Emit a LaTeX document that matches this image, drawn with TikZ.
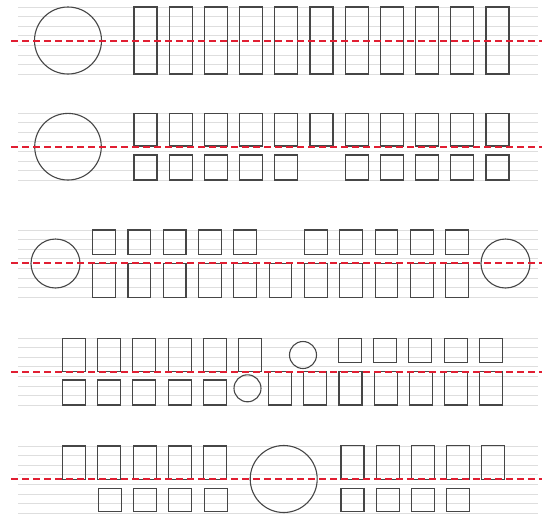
\documentclass[tikz,border=0pt]{standalone}
\definecolor{midred}{RGB}{225,30,50}
\definecolor{inkgray}{RGB}{70,70,70}
\definecolor{ruleg}{RGB}{222,222,222}
\begin{document}
\begin{tikzpicture}[x=1pt,y=-1pt,
  box/.style={draw=inkgray,line width=1.1pt},
  ring/.style={draw=inkgray,line width=1.1pt},
  guide/.style={draw=ruleg,line width=0.5pt},
  midline/.style={draw=midred,line width=1.6pt,dash pattern=on 7pt off 4pt}]
\useasboundingbox (0,0) rectangle (542,515);
% faint ruled lines
\foreach \t in {7,113,230,338,446}{
  \foreach \k in {0,...,7}{
    \draw[guide] (18,\t+9.57*\k) -- (538,\t+9.57*\k);
  }
}
% Row 1
\draw[ring] (68,40.5) circle (33.5);
\foreach \i in {0,...,10}{
  \draw[box] (134+35.2*\i,7) rectangle ++(23,67);
}
% Row 2
\draw[ring] (68,146.7) circle (33.3);
\foreach \i in {0,...,10}{
  \draw[box] (134+35.2*\i,113.3) rectangle ++(23,32.7);
}
\foreach \i in {0,1,2,3,4,6,7,8,9,10}{
  \draw[box] (134+35.2*\i,155) rectangle ++(23,25);
}
% Row 3
\draw[ring] (55.5,263.5) circle (24.5);
\draw[ring] (505.5,263.5) circle (24.5);
\foreach \i in {0,1,2,3,4,6,7,8,9,10}{
  \draw[box] (92.7+35.3*\i,230) rectangle ++(22.7,24.3);
}
\foreach \i in {0,...,10}{
  \draw[box] (92.7+35.3*\i,263.3) rectangle ++(22.7,34);
}
% Row 4
\foreach \i in {0,...,5}{
  \draw[box] (62.3+35.3*\i,338.3) rectangle ++(23,33.4);
}
\foreach \i in {0,...,4}{
  \draw[box] (62.3+35.3*\i,380) rectangle ++(23,25);
}
\draw[ring] (247.5,388.3) circle (13.5);
\draw[ring] (303,355) circle (13.5);
\foreach \i in {0,...,4}{
  \draw[box] (338.3+35.25*\i,338.3) rectangle ++(23,24.4);
}
\foreach \i in {0,...,6}{
  \draw[box] (268.8+35.1*\i,371.7) rectangle ++(23,33.3);
}
% Row 5
\foreach \i in {0,...,4}{
  \draw[box] (62.3+35.4*\i,446) rectangle ++(23,33.3);
}
\foreach \i in {0,...,3}{
  \draw[box] (98.2+35.3*\i,488.3) rectangle ++(23,23.4);
}
\draw[ring] (283.7,479) circle (33.5);
\foreach \i in {0,...,4}{
  \draw[box] (341+35.15*\i,445.5) rectangle ++(23,33.8);
}
\foreach \i in {0,...,3}{
  \draw[box] (341+35.15*\i,488.3) rectangle ++(23,23.4);
}
% red dashed mid lines
\draw[midline] (11,41) -- (542,41);
\draw[midline] (11,146.7) -- (542,146.7);
\draw[midline] (11,262.8) -- (542,262.8);
\draw[midline] (11,371.7) -- (542,371.7);
\draw[midline] (11,478.8) -- (542,478.8);
\end{tikzpicture}
\end{document}
